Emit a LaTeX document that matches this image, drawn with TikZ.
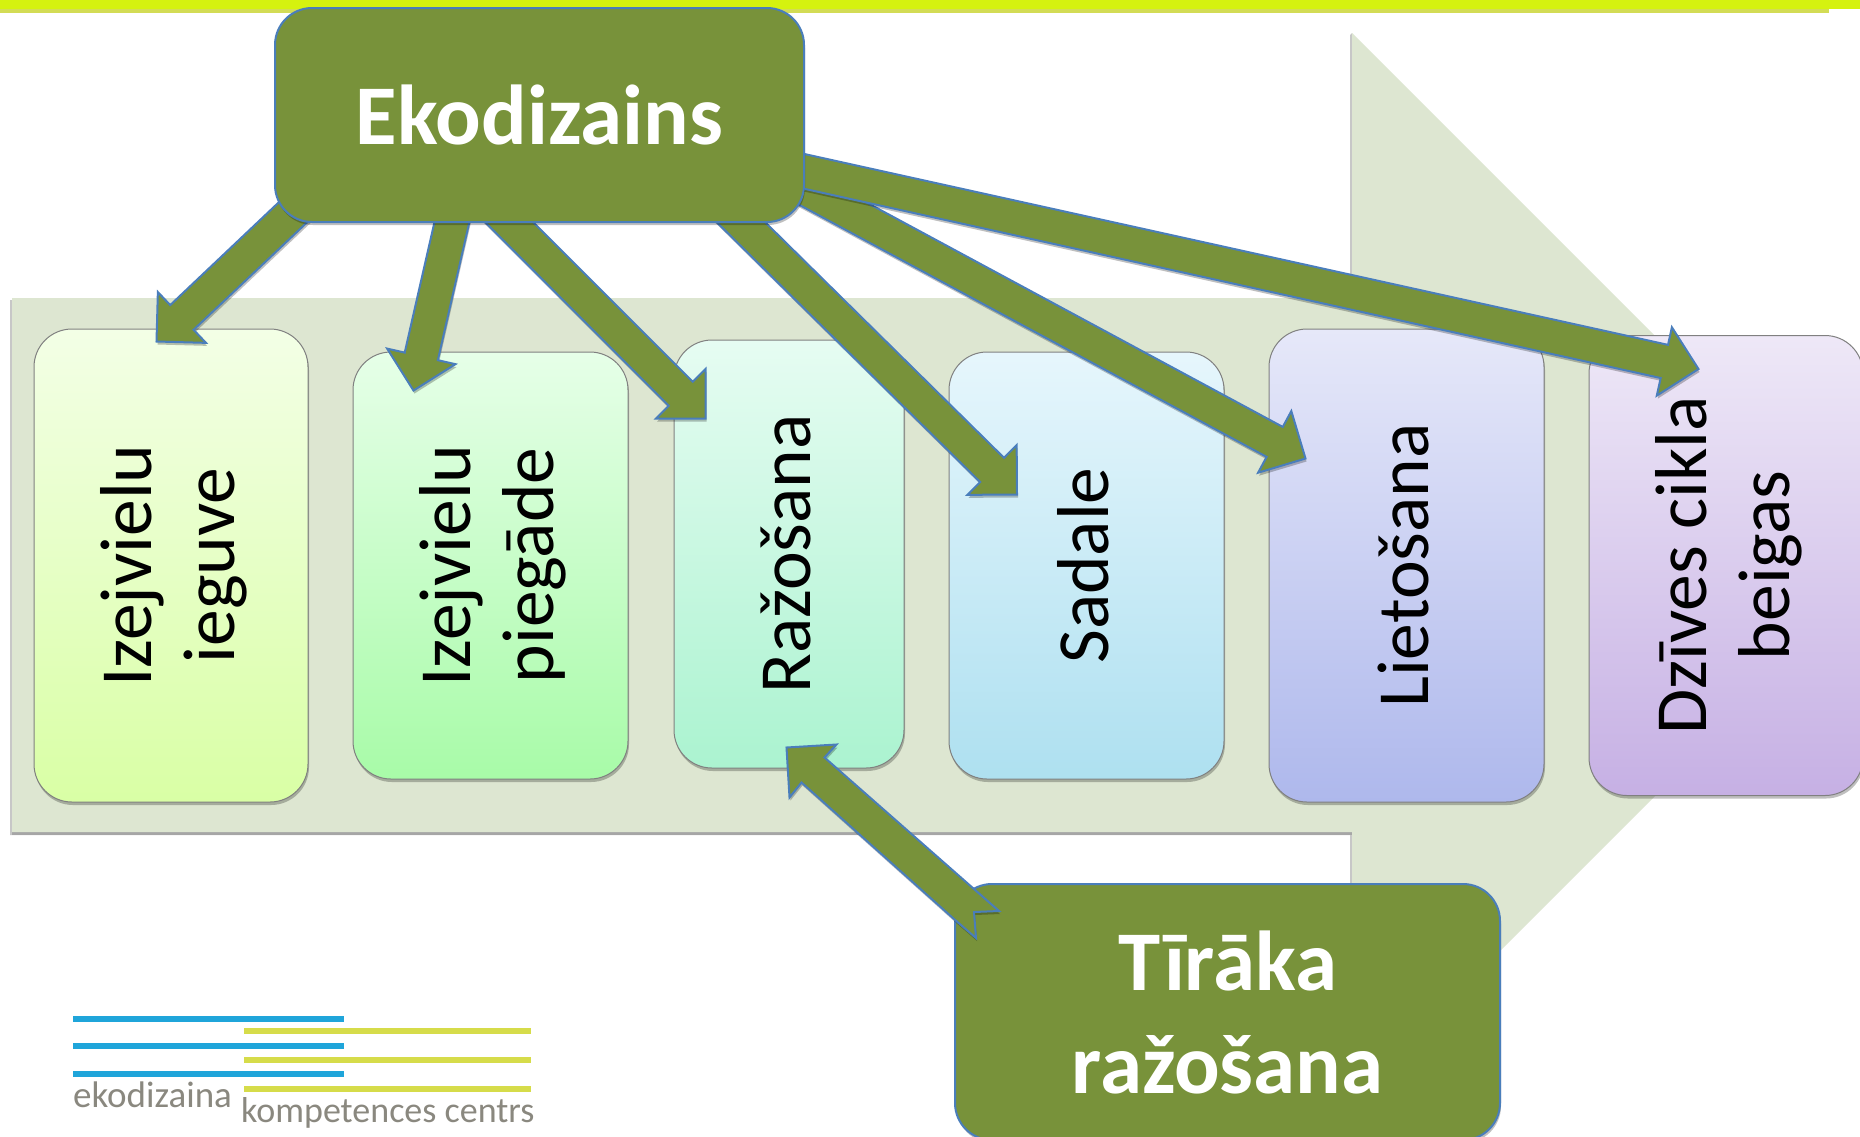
\documentclass[tikz,border=0pt]{standalone}
\usepackage{fontspec}
\setmainfont{Carlito}
\usetikzlibrary{calc,shadows}
\pgfdeclarelayer{front}
\pgfsetlayers{main,front}
\definecolor{barlime}{HTML}{D5F20F}
\definecolor{barshade}{HTML}{D3DC55}
\definecolor{bgarrow}{HTML}{DDE6D1}
\definecolor{olive}{HTML}{78923A}
\definecolor{edgeblue}{HTML}{4A7EBB}
\definecolor{logoblue}{HTML}{1FA5DA}
\definecolor{logoyellow}{HTML}{D6DC4A}
\definecolor{logogrey}{HTML}{8A887F}
\tikzset{
  softshadow/.style={drop shadow={shadow xshift=1pt,shadow yshift=-3pt,opacity=.25,fill=black}},
  stagebox/.style={draw=black!50,line width=1pt,rounded corners=38pt,inner sep=0pt,
     softshadow,text=black,font=\fontsize{73.5}{83}\selectfont},
  greenbox/.style={draw=edgeblue,line width=2pt,fill=olive,rounded corners=37pt,inner sep=0pt,
     softshadow,text=white,align=center,font=\bfseries\fontsize{85}{103}\selectfont},
  blockarrow/.style={draw=edgeblue,line width=2pt,fill=olive,line join=miter,miter limit=10,softshadow},
  logotext/.style={inner sep=0pt,text=logogrey,anchor=base west,font=\fontsize{37}{40}\selectfont},
  logoblueline/.style={draw=logoblue,line width=6pt},
  logoyellowline/.style={draw=logoyellow,line width=6pt},
}
\newcommand{\blockfromto}[2]{%
  \coordinate (neck) at ($(#2)!35pt!(#1)$);
  \draw[blockarrow] ($(#1)!17pt!90:(#2)$) -- ($(neck)!17pt!90:(#2)$) -- ($(neck)!35pt!90:(#2)$)
    -- (#2) -- ($(neck)!35pt!-90:(#2)$) -- ($(neck)!17pt!-90:(#2)$) -- ($(#1)!17pt!-90:(#2)$) -- cycle;}
\newcommand{\stagetext}[1]{\hspace*{10pt}\rotatebox{90}{\begin{tabular}{@{}c@{}}#1\end{tabular}}}
\begin{document}
\begin{tikzpicture}[x=1pt,y=-1pt]
\useasboundingbox (0,0) rectangle (1860,1136);
\fill[white] (0,0) rectangle (1860,1136);
\begin{scope}
\clip (0,0) rectangle (1860,1136);
% top bar
\fill[barshade] (0,8) rectangle (1829,13);
\fill[barlime] (0,0) rectangle (1860,8.5);
% background arrow
\fill[black!22] (10,300) -- (10,835) -- (1350,835) -- (1350,1097) -- (1352,1099) -- (1352,33) -- (1350,35) -- (1350,300) -- cycle;
\fill[black!35] (12,832) rectangle (1352,835);
\fill[bgarrow] (12,298) -- (1352,298) -- (1352,33) -- (1885,566) -- (1352,1099) -- (1352,832) -- (12,832) -- cycle;
% stages
\node[stagebox,minimum width=274pt,minimum height=473pt,
  top color={rgb,255:red,243;green,255;blue,230},bottom color={rgb,255:red,217;green,255;blue,165}] (b1) at (171,565.5) {\stagetext{Izejvielu\\ieguve}};
\node[stagebox,minimum width=275pt,minimum height=427pt,
  top color={rgb,255:red,230;green,255;blue,232},bottom color={rgb,255:red,168;green,251;blue,168}] (b2) at (490.5,565.5) {\stagetext{Izejvielu\\piegāde}};
\node[stagebox,minimum width=230pt,minimum height=428pt,
  top color={rgb,255:red,230;green,252;blue,242},bottom color={rgb,255:red,171;green,243;blue,208}] (b3) at (789,554) {\stagetext{Ražošana}};
\node[stagebox,minimum width=275pt,minimum height=427pt,
  top color={rgb,255:red,230;green,246;blue,252},bottom color={rgb,255:red,174;green,224;blue,240}] (b4) at (1086.5,565.5) {\stagetext{Sadale}};
\node[stagebox,minimum width=275pt,minimum height=473pt,
  top color={rgb,255:red,230;green,232;blue,249},bottom color={rgb,255:red,174;green,184;blue,236}] (b5) at (1406.5,565.5) {\stagetext{Lietošana}};
\node[stagebox,minimum width=274pt,minimum height=460pt,
  top color={rgb,255:red,238;green,232;blue,247},bottom color={rgb,255:red,198;green,176;blue,228}] (b6) at (1726,565.5) {\stagetext{Dzīves cikla\\beigas}};
% hub box sits on the front layer, over the roots of its arrows
\begin{pgfonlayer}{front}
\node[greenbox,minimum width=529pt,minimum height=214pt] (eko) at (539.5,115) {Ekodizains};
\end{pgfonlayer}
\coordinate (s1) at ($(eko.south west)+(33,-24)$);
\coordinate (s2) at ($(eko.south west)+(181.6,-17)$);
\coordinate (s3) at ($(eko.south west)+(219,-17)$);
\coordinate (s4) at ($(eko.south west)+(450.5,-17)$);
\coordinate (s5) at ($(eko.south west)+(515,-43)$);
\coordinate (s6) at ($(eko.south west)+(515,-55)$);
\coordinate (t1) at ($(b1.north west)+(123,13)$);
\coordinate (t2) at ($(b2.north west)+(61,39)$);
\coordinate (t3) at ($(b3.north west)+(32,79)$);
\coordinate (t4) at ($(b4.north west)+(68.5,143)$);
\coordinate (t5) at ($(b5.north west)+(37,130)$);
\coordinate (t6) at ($(b6.north west)+(110,34)$);
\blockfromto{s1}{t1}
\blockfromto{s2}{t2}
\blockfromto{s3}{t3}
\blockfromto{s4}{t4}
\blockfromto{s5}{t5}
\blockfromto{s6}{t6}
% cleaner production
\node[greenbox,minimum width=545pt,minimum height=256pt] (clean) at (1227.5,1012) {Tīrāka\\ražošana};
\coordinate (c1) at ($(b3.south west)+(113,-21)$);
\coordinate (c2) at ($(clean.north west)+(45,28)$);
\draw[blockarrow] ($(c1)+(38,10)$) -- (c2) -- ($(c2)+(-25,1)$) -- ($(c2)+(-23,27)$) -- ($(c2)+(-45,8)$)
   -- ($(c1)+(15,35)$) -- ($(c1)+(3,50)$) -- (c1) -- ($(c1)+(50,-3)$) -- cycle;
% logo
\draw[logoblueline] (73,1019) -- (344,1019) (73,1046) -- (344,1046) (73,1074) -- (344,1074);
\draw[logoyellowline] (244,1031) -- (531,1031) (244,1060) -- (531,1060) (244,1089) -- (531,1089);
\node[logotext] (logoa) at (73,1107) {ekodizaina};
\node[logotext,font=\fontsize{36}{40}\selectfont] (logob) at (241,1122) {kompetences centrs};
\end{scope}
\end{tikzpicture}
\end{document}
